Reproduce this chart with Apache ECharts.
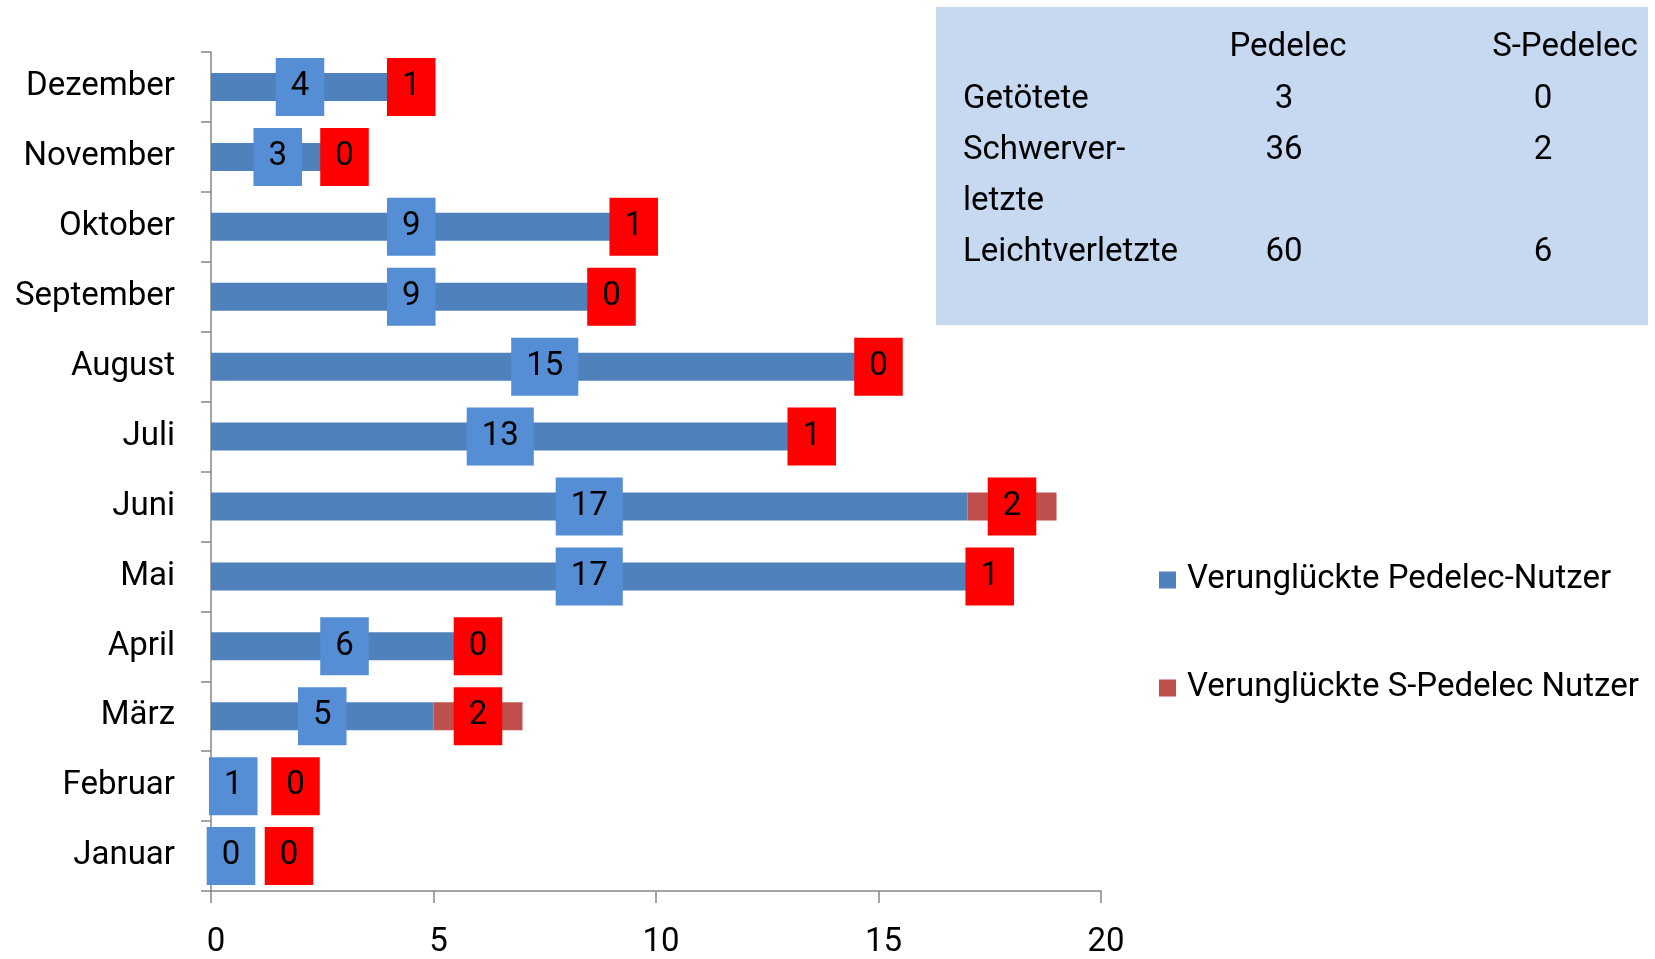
<!DOCTYPE html>
<html>
<head>
<meta charset="utf-8">
<script src="https://cdn.jsdelivr.net/npm/echarts@6/dist/echarts.min.js"></script>
<style>
  html, body { margin: 0; padding: 0; background: #fff; }
  #chart { width: 1655px; height: 959px; }
</style>
</head>
<body>
<div id="chart"></div>
<script>
// Monate von unten nach oben
const months = ['Januar', 'Februar', 'März', 'April', 'Mai', 'Juni', 'Juli', 'August', 'September', 'Oktober', 'November', 'Dezember'];
const pedelec = [0, 1, 5, 6, 17, 17, 13, 15, 9, 9, 3, 4];
const sPedelec = [0, 0, 2, 0, 1, 2, 1, 0, 0, 1, 0, 1];
const xTicks = [0, 5, 10, 15, 20];

// Tabelle oben rechts
const tableHead = ['Pedelec', 'S-Pedelec'];
const tableRows = ['Getötete', 'Schwerver-\nletzte', 'Leichtverletzte'];
const tablePedelec = [3, 36, 60];
const tableSPedelec = [0, 2, 6];

const FONT = 'Roboto, "Noto Sans", sans-serif';
const FS = 33;

// Labels im Januar/Februar sind im Original verschoben
const labelNudge = {
  blue: { 0: [20, 0] },
  red: { 0: [78, 0], 1: [40, 0] }
};

function buildData(values, nudge) {
  return values.map((v, i) => {
    if (nudge[i]) return { value: v, label: { offset: nudge[i] } };
    return v;
  });
}

// Werte der Tabelle zeilenweise, mehrzeilige Bezeichnungen bekommen Leerzeilen
function columnText(vals) {
  return vals.map((v, i) => String(v) + '\n'.repeat(tableRows[i].split('\n').length - 1)).join('\n');
}

const labelBase = {
  show: true,
  position: 'inside',
  color: '#000',
  fontFamily: FONT,
  fontSize: FS,
  lineHeight: 46,
  padding: [9, 15, 3, 15]
};

const myChart = echarts.init(document.getElementById('chart'));

const option = {
  animation: false,
  textStyle: { fontFamily: FONT },
  grid: {
    left: 211,
    top: 52,
    width: 890,
    height: 840,
    containLabel: false
  },
  legend: {
    orient: 'vertical',
    left: 1154,
    top: 555,
    itemWidth: 17,
    itemHeight: 17,
    itemGap: 68,
    icon: 'rect',
    textStyle: {
      fontFamily: FONT,
      fontSize: FS,
      lineHeight: 40,
      color: '#000',
      padding: [0, 0, 0, 6]
    },
    data: ['Verunglückte Pedelec-Nutzer', 'Verunglückte S-Pedelec Nutzer']
  },
  xAxis: {
    type: 'value',
    min: xTicks[0],
    max: xTicks[xTicks.length - 1],
    interval: xTicks[1] - xTicks[0],
    splitLine: { show: false },
    axisLine: { show: true, lineStyle: { color: '#868686', width: 1.5 } },
    axisTick: { show: true, length: 12, lineStyle: { color: '#868686', width: 1.5 } },
    axisLabel: { color: '#000', fontSize: FS, fontFamily: FONT, margin: 35, padding: [0, 0, 0, 10] }
  },
  yAxis: {
    type: 'category',
    data: months,
    axisLine: { show: true, lineStyle: { color: '#868686', width: 1.5 } },
    axisTick: { show: true, length: 10, lineStyle: { color: '#868686', width: 1.5 } },
    axisLabel: { color: '#000', fontSize: FS, fontFamily: FONT, margin: 36, padding: [8, 0, 0, 0] }
  },
  series: [
    {
      name: 'Verunglückte Pedelec-Nutzer',
      type: 'bar',
      stack: 'gesamt',
      barWidth: 28,
      itemStyle: { color: '#4F81BD' },
      label: Object.assign({ backgroundColor: '#558ED5' }, labelBase),
      data: buildData(pedelec, labelNudge.blue)
    },
    {
      name: 'Verunglückte S-Pedelec Nutzer',
      type: 'bar',
      stack: 'gesamt',
      barWidth: 28,
      itemStyle: { color: '#C0504D' },
      label: Object.assign({ backgroundColor: '#FF0000' }, labelBase),
      data: buildData(sPedelec, labelNudge.red)
    }
  ],
  graphic: [
    {
      type: 'rect',
      shape: { x: 936, y: 7, width: 712, height: 318 },
      style: { fill: '#C6D9F1' },
      z: 0
    },
    {
      type: 'text',
      x: 1288, y: 48,
      style: { text: tableHead[0], font: FS + 'px ' + FONT, fill: '#000', align: 'center', verticalAlign: 'middle' }
    },
    {
      type: 'text',
      x: 1565, y: 48,
      style: { text: tableHead[1], font: FS + 'px ' + FONT, fill: '#000', align: 'center', verticalAlign: 'middle' }
    },
    {
      type: 'text',
      x: 963, y: 74,
      style: { text: tableRows.join('\n'), font: FS + 'px ' + FONT, lineHeight: 51, fill: '#000', align: 'left', verticalAlign: 'top' }
    },
    {
      type: 'text',
      x: 1284, y: 74,
      style: { text: columnText(tablePedelec), font: FS + 'px ' + FONT, lineHeight: 51, fill: '#000', align: 'center', verticalAlign: 'top' }
    },
    {
      type: 'text',
      x: 1543, y: 74,
      style: { text: columnText(tableSPedelec), font: FS + 'px ' + FONT, lineHeight: 51, fill: '#000', align: 'center', verticalAlign: 'top' }
    }
  ]
};

myChart.setOption(option);
</script>
</body>
</html>
